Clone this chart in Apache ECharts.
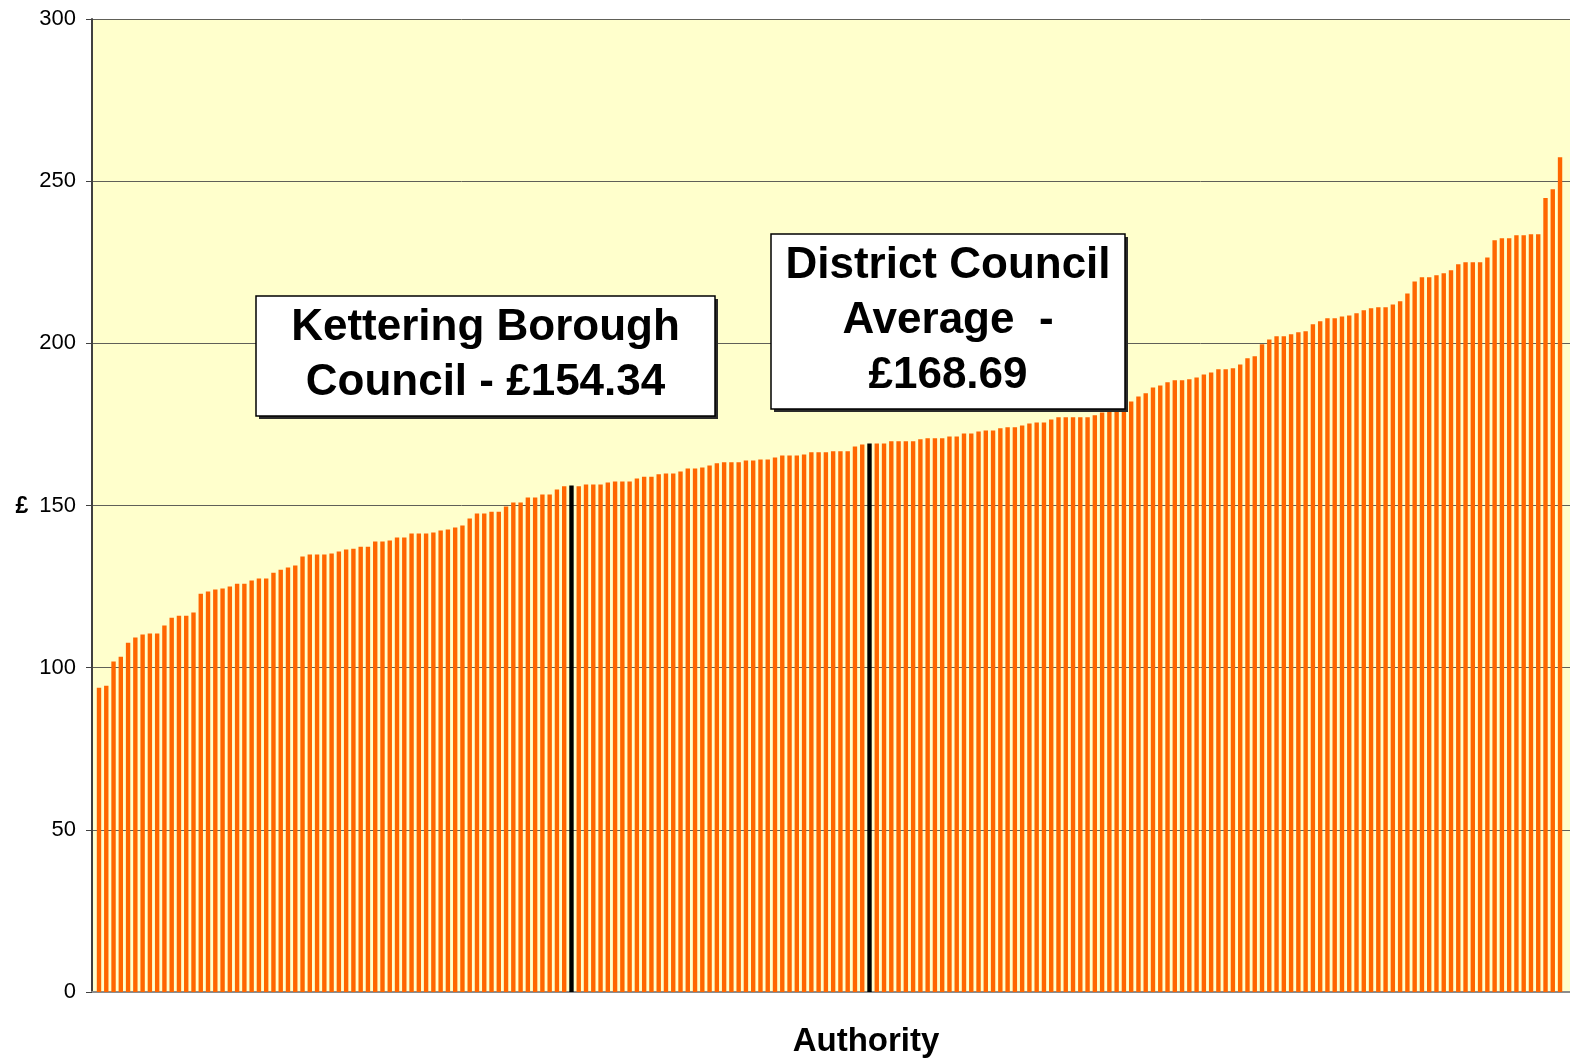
<!DOCTYPE html>
<html>
<head>
<meta charset="utf-8">
<title>Authority costs</title>
<script src="https://cdn.jsdelivr.net/npm/echarts@6/dist/echarts.min.js"></script>
<style>
    html, body { margin: 0; padding: 0; background: #fff; }
    #chart { width: 1570px; height: 1062px; }
</style>
</head>
<body>
<div id="chart"></div>
<script>
// cost per authority, sorted (£)
var authorityCost = [
    93.8, 94.4, 101.9, 103.4, 107.7, 109.3, 110.2, 110.5, 110.5, 113.0,
    115.4, 116.0, 116.0, 117.0, 122.8, 123.5, 124.1, 124.4, 125.0, 125.9,
    125.9, 126.9, 127.5, 127.5, 129.3, 130.2, 130.9, 131.5, 134.3, 134.9,
    134.9, 134.9, 135.2, 135.8, 136.4, 136.7, 137.3, 137.3, 138.9, 138.9,
    139.2, 140.1, 140.1, 141.4, 141.4, 141.4, 141.7, 142.3, 142.6, 143.2,
    143.8, 146.0, 147.5, 147.5, 148.1, 148.1, 149.7, 150.9, 150.9, 152.5,
    152.5, 153.4, 153.4, 154.9, 155.9, 156.2, 155.9, 156.5, 156.5, 156.5,
    157.1, 157.4, 157.4, 157.4, 158.3, 158.9, 158.9, 159.6, 159.9, 159.9,
    160.5, 161.4, 161.4, 161.7, 162.3, 163.0, 163.3, 163.3, 163.3, 163.9,
    163.9, 164.2, 164.2, 164.8, 165.4, 165.4, 165.4, 165.7, 166.4, 166.4,
    166.4, 166.7, 166.7, 166.7, 168.2, 168.8, 169.1, 169.1, 169.1, 169.8,
    169.8, 169.8, 169.8, 170.4, 170.7, 170.7, 170.7, 171.3, 171.3, 172.2,
    172.2, 172.8, 173.1, 173.1, 173.8, 174.1, 174.1, 174.7, 175.3, 175.6,
    175.6, 176.5, 177.2, 177.2, 177.2, 177.2, 177.2, 177.8, 178.7, 179.0,
    179.0, 179.9, 182.1, 183.6, 184.6, 186.4, 187.0, 188.0, 188.6, 188.6,
    188.9, 189.5, 190.4, 191.0, 192.0, 192.0, 192.3, 193.5, 195.4, 196.0,
    199.7, 201.2, 202.2, 202.2, 202.8, 203.4, 203.7, 205.9, 206.8, 207.7,
    207.7, 208.3, 208.6, 209.3, 210.2, 210.8, 211.1, 211.1, 212.0, 213.0,
    215.4, 219.1, 220.4, 220.4, 221.0, 221.6, 222.5, 224.4, 225.0, 225.0,
    225.0, 226.5, 231.8, 232.4, 232.4, 233.3, 233.3, 233.6, 233.6, 244.8,
    247.5, 257.4
];

// bars drawn in black
var highlightIndex = [65, 106];   // Kettering, district average

var kettLabel = 'Kettering Borough\nCouncil - £154.34';
var avgLabel = 'District Council\nAverage  -\n£168.69';
var yName = '£';
var xName = 'Authority';

var FONT = '"Liberation Sans", Arial, sans-serif';

(function () {
    var myChart = echarts.init(document.getElementById('chart'), null, {renderer: 'canvas'});

    var barData = [];
    for (var i = 0; i < authorityCost.length; i++) {
        var item = {value: [i, authorityCost[i]]};
        if (highlightIndex.indexOf(i) >= 0) {
            item.itemStyle = {color: '#000000'};
        }
        barData.push(item);
    }

    function noteBox(x, y, w, h, text) {
        return {
            type: 'group',
            children: [
                // drop shadow
                {
                    type: 'rect',
                    shape: {x: x + 3, y: y + 3, width: w, height: h},
                    style: {fill: '#2a2a2a'},
                    z: 9
                },
                {
                    type: 'rect',
                    shape: {x: x, y: y, width: w, height: h},
                    style: {fill: '#ffffff', stroke: '#000000', lineWidth: 1.5},
                    z: 10
                },
                {
                    type: 'text',
                    x: x + w / 2, y: y + h / 2 - 1,
                    style: {
                        text: text, fill: '#000', font: 'bold 44px ' + FONT,
                        align: 'center', verticalAlign: 'middle', lineHeight: 55
                    },
                    z: 11
                }
            ]
        };
    }

    var option = {
        animation: false,
        backgroundColor: '#ffffff',
        grid: {
            left: 92, top: 19, right: 0, bottom: 70,
            show: true, backgroundColor: '#FFFFCC', borderWidth: 0
        },
        xAxis: {
            type: 'value',
            min: -0.963,
            max: 202.37,
            axisLine: {show: true, lineStyle: {color: '#8c8c8c', width: 2}},
            axisTick: {show: false},
            axisLabel: {show: false},
            splitLine: {show: false}
        },
        yAxis: {
            type: 'value',
            min: 0,
            max: 300,
            interval: 50,
            axisLine: {show: true, onZero: false, lineStyle: {color: '#404040', width: 2}},
            axisTick: {show: true, length: 6, lineStyle: {color: '#404040', width: 1}},
            axisLabel: {color: '#000', fontSize: 22, fontFamily: FONT, margin: 16},
            splitLine: {show: true, lineStyle: {color: '#606058', width: 1}}
        },
        series: [{
            type: 'bar',
            data: barData,
            barWidth: 4.4,
            itemStyle: {color: '#FF6600'},
            z: 3
        }],
        graphic: [
            noteBox(256, 296, 459, 120, kettLabel),
            noteBox(771, 234, 354, 175, avgLabel),
            {
                type: 'text', x: 22, y: 507,
                style: {text: yName, fill: '#000', font: 'bold 23px ' + FONT, align: 'center', verticalAlign: 'middle'}
            },
            {
                type: 'text', x: 866, y: 1042,
                style: {text: xName, fill: '#000', font: 'bold 33px ' + FONT, align: 'center', verticalAlign: 'middle'}
            }
        ]
    };

    myChart.setOption(option);
})();
</script>
</body>
</html>
